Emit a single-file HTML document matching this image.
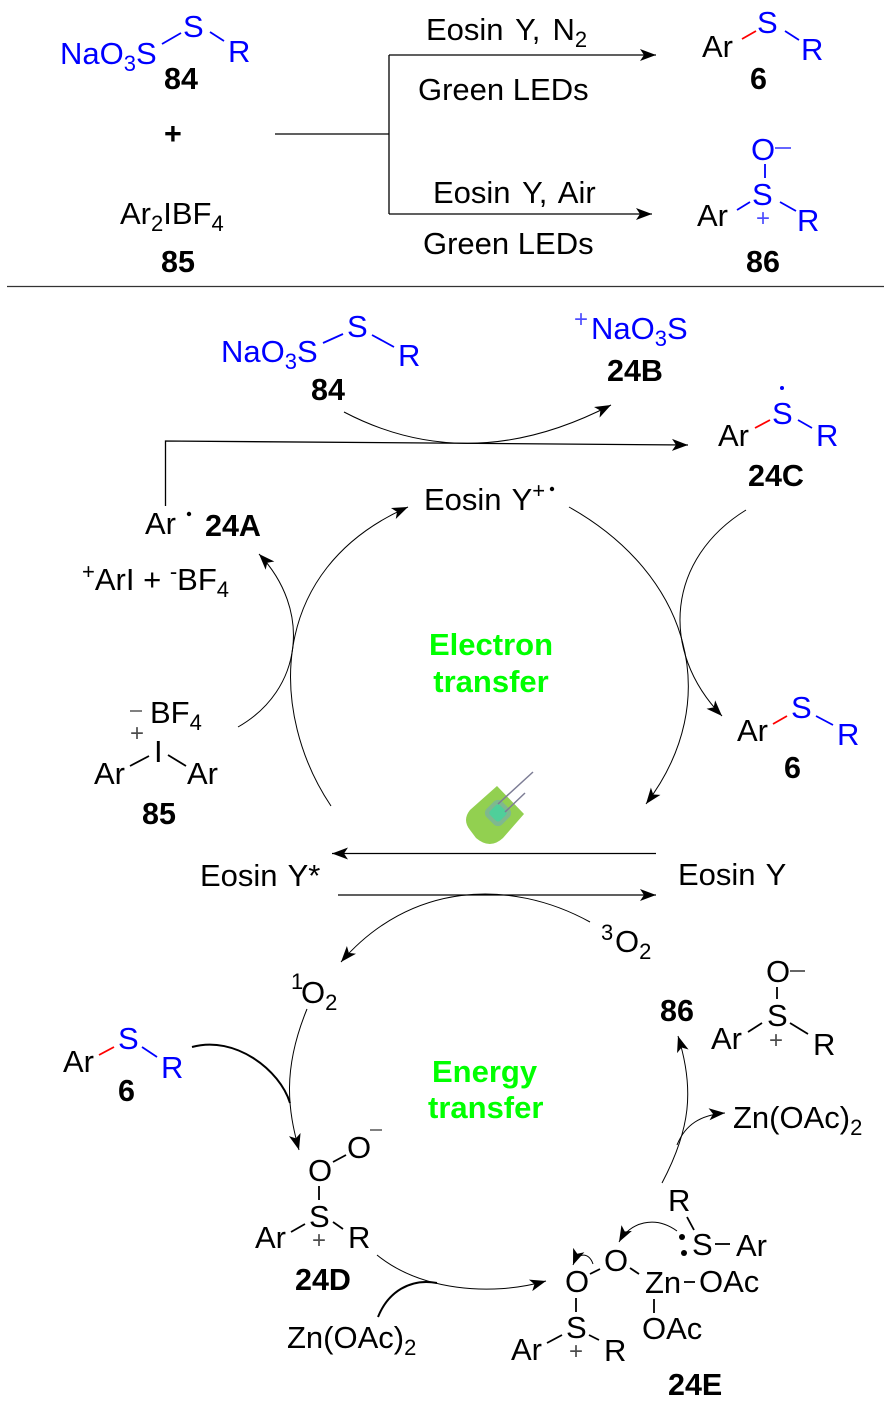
<!DOCTYPE html>
<html><head><meta charset="utf-8"><style>
html,body{margin:0;padding:0;background:#fff}
svg{display:block}
text{font-family:"Liberation Sans",sans-serif;font-size:31px;fill:#000}
.b{font-weight:bold;font-size:30.5px}
.bl{fill:#00f}
.g{fill:#0f0;font-weight:bold;text-anchor:middle}
.c{font-size:24px;fill-opacity:.7}
.d{font-size:22px;fill-opacity:1}
.w{word-spacing:3.5px}
.y{word-spacing:2px}
path.l,line{fill:none;stroke:#000;stroke-width:1.3}
line.s{stroke-width:1.8}
line.blue{stroke:#00f;stroke-width:1.8}
line.red{stroke:#f00;stroke-width:1.8}
path.t{fill:none;stroke:#000;stroke-width:1}
path.h{fill:none;stroke:#000;stroke-width:2}
</style></head><body>
<svg width="892" height="1416" viewBox="0 0 892 1416" xmlns="http://www.w3.org/2000/svg">
<defs>
<marker id="a" markerUnits="userSpaceOnUse" markerWidth="18" markerHeight="14" viewBox="0 0 18 14" refX="16" refY="7" orient="auto"><path d="M16,7 L0,1 L4,7 L0,13 z" fill="#000"/></marker>
</defs>
<rect width="892" height="1416" fill="#fff"/>

<!-- top scheme -->
<text x="60" y="64" class="bl">NaO<tspan dy="7" font-size="22">3</tspan><tspan dy="-7">S</tspan></text>
<text x="183" y="37" class="bl">S</text><text x="228" y="62" class="bl">R</text>
<line class="blue" x1="162" y1="44" x2="181" y2="33"/><line class="blue" x1="210" y1="32" x2="224" y2="41"/>
<text x="164" y="89" class="b">84</text>
<text x="164" y="144" class="b">+</text>
<text x="120" y="224">Ar<tspan dy="7" font-size="22">2</tspan><tspan dy="-7">IBF</tspan><tspan dy="7" font-size="22">4</tspan></text>
<text x="161" y="272" class="b">85</text>
<path class="l" d="M275,134H389M389,214V55"/>
<path class="l" d="M389,55H656" marker-end="url(#a)"/>
<path class="l" d="M389,214H652" marker-end="url(#a)"/>
<text x="426" y="40" class="w">Eosin Y, N<tspan dy="7" font-size="22">2</tspan></text>
<text x="418" y="100">Green LEDs</text>
<text x="433" y="203" class="w">Eosin Y, Air</text>
<text x="423" y="254">Green LEDs</text>
<text x="702" y="57">Ar</text><text x="757" y="33" class="bl">S</text><text x="801" y="60" class="bl">R</text>
<line class="red" x1="742" y1="39" x2="756" y2="31"/><line class="blue" x1="785" y1="31" x2="799" y2="40"/>
<text x="750" y="89" class="b">6</text>
<text x="751" y="160" class="bl">O</text><line class="blue" x1="775" y1="148" x2="791" y2="148" style="stroke-width:1.2"/>
<line class="blue" x1="765" y1="164" x2="765" y2="178"/>
<text x="752" y="205" class="bl">S</text>
<text x="697" y="226">Ar</text><text x="797" y="231" class="bl">R</text>
<text x="756" y="226" class="c bl">+</text>
<line class="blue" x1="737" y1="210" x2="750" y2="202"/><line class="blue" x1="780" y1="202" x2="796" y2="211"/>
<text x="746" y="272" class="b">86</text>
<line x1="7" y1="286.5" x2="884" y2="286.5" style="stroke:#333"/>

<!-- upper cycle -->
<text x="221" y="362" class="bl">NaO<tspan dy="7" font-size="22">3</tspan><tspan dy="-7">S</tspan></text>
<text x="347" y="337" class="bl">S</text><text x="398" y="366" class="bl">R</text>
<line class="blue" x1="323" y1="343" x2="343" y2="334"/><line class="blue" x1="372" y1="335" x2="394" y2="347"/>
<text x="311" y="400" class="b">84</text>
<text x="574" y="327" class="c bl">+</text>
<text x="591" y="339" class="bl">NaO<tspan dy="7" font-size="22">3</tspan><tspan dy="-7">S</tspan></text>
<text x="607" y="381" class="b">24B</text>
<path class="t" d="M344,412 Q470,478 611,405" marker-end="url(#a)"/>
<path class="l" d="M165.5,506V441L688,445" marker-end="url(#a)"/>
<text x="718" y="446">Ar</text><text x="772" y="424" class="bl">S</text><text x="816" y="446" class="bl">R</text>
<circle cx="782" cy="388" r="2" fill="#00f"/>
<line class="red" x1="755" y1="428" x2="770" y2="420"/><line class="blue" x1="798" y1="420" x2="812" y2="428"/>
<text x="748" y="486" class="b">24C</text>
<text x="424" y="510" class="y">Eosin Y<tspan dy="-12" font-size="22">+</tspan></text>
<circle cx="552" cy="489" r="2.2" fill="#000"/>
<text x="145" y="534">Ar</text><circle cx="189" cy="514" r="2.2" fill="#000"/>
<text x="205" y="536" class="b">24A</text>
<text x="82" y="590"><tspan dy="-11" font-size="22">+</tspan><tspan dy="11">ArI + </tspan><tspan dy="-11" font-size="22">-</tspan><tspan dy="11">BF</tspan><tspan dy="7" font-size="22">4</tspan></text>
<path class="t" d="M238,727 C303,690 312,610 259,554" marker-end="url(#a)"/>
<path class="t" d="M331,806 C270,715 265,570 408,507" marker-end="url(#a)"/>
<path class="t" d="M569,507 C690,575 725,700 646,804" marker-end="url(#a)"/>
<path class="t" d="M746,510 C668,558 658,650 722,716" marker-end="url(#a)"/>
<text x="491" y="655" class="g">Electron</text>
<text x="491" y="692" class="g">transfer</text>
<text x="737" y="741">Ar</text><text x="791" y="718" class="bl">S</text><text x="837" y="745" class="bl">R</text>
<line class="red" x1="773" y1="724" x2="787" y2="716"/><line class="blue" x1="816" y1="716" x2="833" y2="725"/>
<text x="784" y="778" class="b">6</text>
<line x1="130" y1="711" x2="142" y2="711" style="stroke-width:1"/>
<text x="150" y="723">BF<tspan dy="7" font-size="22">4</tspan></text>
<text x="130" y="741" class="c">+</text>
<text x="154" y="762">I</text>
<text x="94" y="784">Ar</text><text x="187" y="784">Ar</text>
<line class="s" x1="130" y1="766" x2="149" y2="756"/><line class="s" x1="168" y1="755" x2="186" y2="766"/>
<text x="142" y="824" class="b">85</text>

<!-- LED -->
<path d="M497,786 L524,814 L503,838 Q490,850 476,838 L470,830 Q462,820 470,810 Z" fill="#92d050"/>
<rect x="487" y="802" width="22" height="22" rx="6" transform="rotate(45 498 813)" fill="#7fb88f"/>
<rect x="491" y="806" width="14" height="14" rx="3" transform="rotate(45 498 813)" fill="#4fcf9a"/>
<path d="M498,804 L533,772 M505,812 L525,793" stroke="#7d7d95" stroke-width="1.5" fill="none"/>

<path class="l" d="M656,853.5H332" marker-end="url(#a)"/>
<path class="l" d="M338,895H656" marker-end="url(#a)"/>
<text x="200" y="886" class="y">Eosin Y*</text>
<text x="678" y="885" class="y">Eosin Y</text>

<!-- lower cycle -->
<text x="601" y="940" class="d">3</text>
<text x="615" y="952">O<tspan dy="7" font-size="22">2</tspan></text>
<path class="t" d="M590,922 C510,878 410,882 341,962" marker-end="url(#a)"/>
<text x="291" y="989" class="d">1</text>
<text x="301" y="1003">O<tspan dy="7" font-size="22">2</tspan></text>
<path class="t" d="M307,1009 C282,1070 288,1110 299,1150" marker-end="url(#a)"/>
<path class="h" d="M192,1047 C235,1035 280,1070 290,1103"/>
<text x="63" y="1072">Ar</text><text x="118" y="1049" class="bl">S</text><text x="161" y="1078" class="bl">R</text>
<line class="red" x1="99" y1="1055" x2="114" y2="1047"/><line class="blue" x1="142" y1="1047" x2="157" y2="1057"/>
<text x="118" y="1101" class="b">6</text>
<text x="308" y="1181">O</text><text x="347" y="1158">O</text>
<line x1="370" y1="1130" x2="382" y2="1130" style="stroke-width:1"/>
<line class="s" x1="333" y1="1162" x2="346" y2="1155"/>
<line class="s" x1="319" y1="1186" x2="319" y2="1200"/>
<text x="309" y="1227">S</text>
<text x="255" y="1248">Ar</text><text x="348" y="1248">R</text>
<text x="312" y="1248" class="c">+</text>
<line class="s" x1="291" y1="1232" x2="305" y2="1224"/><line class="s" x1="333" y1="1222" x2="343" y2="1229"/>
<text x="295" y="1290" class="b">24D</text>
<path class="t" d="M377,1255 C420,1290 490,1297 546,1281" marker-end="url(#a)"/>
<path class="h" d="M378,1317 C388,1292 410,1278 437,1283"/>
<text x="287" y="1348">Zn(OAc)<tspan dy="7" font-size="22">2</tspan></text>
<text x="432" y="1082" class="g" style="text-anchor:start">Energy</text>
<text x="428" y="1118" class="g" style="text-anchor:start">transfer</text>

<text x="660" y="1021" class="b">86</text>
<text x="766" y="982">O</text><line x1="790" y1="971" x2="805" y2="971" style="stroke-width:1.2"/>
<line class="s" x1="777" y1="987" x2="777" y2="999"/>
<text x="767" y="1026">S</text>
<text x="711" y="1049">Ar</text><text x="813" y="1055">R</text>
<text x="769" y="1048" class="c">+</text>
<line class="s" x1="748" y1="1032" x2="762" y2="1023"/><line class="s" x1="790" y1="1023" x2="808" y2="1034"/>
<text x="733" y="1128">Zn(OAc)<tspan dy="7" font-size="22">2</tspan></text>
<path class="t" d="M662,1183 C690,1130 695,1090 678,1036" marker-end="url(#a)"/>
<path class="t" d="M677,1145 C685,1125 700,1115 725,1113" marker-end="url(#a)"/>
<text x="668" y="1211">R</text>
<line class="s" x1="687" y1="1217" x2="694" y2="1230"/>
<circle cx="682" cy="1237" r="3" fill="#000"/><circle cx="684" cy="1253" r="3" fill="#000"/>
<text x="692" y="1255">S</text>
<line class="s" x1="715" y1="1244" x2="730" y2="1244"/>
<text x="736" y="1256">Ar</text>
<path class="t" d="M677,1231 C655,1215 630,1222 619,1242" marker-end="url(#a)"/>
<path class="t" d="M593,1264 C589,1252 578,1252 573,1265" marker-end="url(#a)"/>
<text x="604" y="1271">O</text><text x="565" y="1292">O</text>
<line class="s" x1="590" y1="1274" x2="600" y2="1269"/><line class="s" x1="630" y1="1268" x2="639" y2="1274"/>
<text x="645" y="1293">Zn</text>
<line class="s" x1="684" y1="1282" x2="695" y2="1282"/>
<text x="699" y="1292">OAc</text>
<line class="s" x1="654" y1="1299" x2="654" y2="1313"/>
<text x="642" y="1339">OAc</text>
<line class="s" x1="576" y1="1298" x2="576" y2="1312"/>
<text x="566" y="1338">S</text>
<text x="511" y="1360">Ar</text><text x="604" y="1361">R</text>
<text x="569" y="1359" class="c">+</text>
<line class="s" x1="547" y1="1343" x2="562" y2="1335"/><line class="s" x1="589" y1="1335" x2="599" y2="1340"/>
<text x="668" y="1395" class="b">24E</text>
</svg>
</body></html>
